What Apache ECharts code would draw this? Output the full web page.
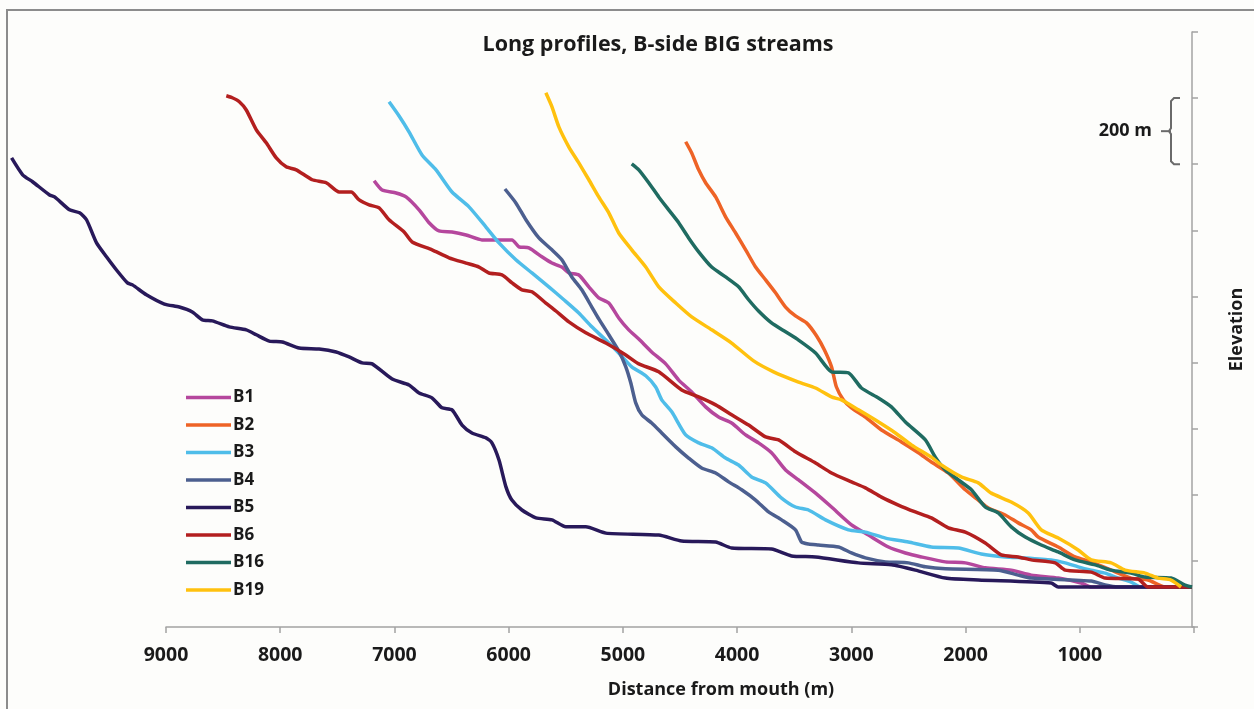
<!DOCTYPE html>
<html><head><meta charset="utf-8">
<script src="https://cdn.jsdelivr.net/npm/echarts@6/dist/echarts.min.js"></script>
<style>html,body{margin:0;padding:0;background:#ffffff}#c{width:1254px;height:709px}</style>
</head><body><div id="c"></div>
<script>
// distance from mouth (m), elevation (m)
const seriesNames = ['B1','B2','B3','B4','B5','B6','B16','B19'];
const seriesColors = ['#b5479d','#ee6326','#4fbde9','#4c5f8f','#28195a','#b31f1f','#1f6b61','#ffc10e'];

const B1 = [[7172,1350],[7102,1322],[6979,1313],[6892,1301],[6778,1262],[6690,1223],[6603,1198],[6489,1195],[6366,1186],[6226,1171],[5963,1171],[5902,1150],[5815,1147],[5701,1120],[5613,1101],[5526,1089],[5464,1071],[5377,1065],[5289,1029],[5202,996],[5114,980],[5027,935],[4939,899],[4851,871],[4738,832],[4615,796],[4501,747],[4387,711],[4265,666],[4151,635],[4037,617],[3914,581],[3801,557],[3687,527],[3564,475],[3450,445],[3301,405],[3161,363],[2986,309],[2837,278],[2662,242],[2513,224],[2373,212],[2163,197],[1988,194],[1813,179],[1585,172],[1410,157],[1173,148],[972,133],[884,121],[0,121]];

const B2 = [[4440,1468],[4387,1434],[4326,1383],[4265,1344],[4177,1301],[4090,1241],[4002,1192],[3914,1141],[3827,1089],[3739,1050],[3652,1011],[3564,968],[3477,941],[3380,920],[3293,881],[3223,838],[3161,787],[3118,726],[3056,687],[2986,663],[2864,635],[2723,596],[2548,560],[2399,527],[2286,499],[2137,466],[1988,415],[1874,384],[1786,360],[1638,339],[1524,315],[1410,294],[1349,272],[1173,242],[1025,212],[884,197],[709,172],[534,148],[385,142],[236,121],[0,121]];

const B3 = [[7041,1589],[6953,1546],[6866,1498],[6752,1428],[6629,1383],[6489,1316],[6340,1271],[6191,1210],[6077,1162],[5929,1111],[5788,1071],[5640,1029],[5508,990],[5377,950],[5263,908],[5140,868],[5027,829],[4913,787],[4790,760],[4703,726],[4650,687],[4562,651],[4440,581],[4326,557],[4212,542],[4090,511],[3976,490],[3862,454],[3739,436],[3599,390],[3477,363],[3363,354],[3214,324],[3012,294],[2864,287],[2688,269],[2487,257],[2286,242],[2049,239],[1848,221],[1638,212],[1462,209],[1235,203],[1112,194],[998,182],[884,172],[762,163],[648,148],[534,136],[447,121],[0,121]];

const B4 = [[6025,1325],[5929,1283],[5841,1232],[5727,1177],[5613,1141],[5526,1111],[5438,1059],[5351,1020],[5263,968],[5202,932],[5114,884],[5027,835],[4965,787],[4921,738],[4878,678],[4825,642],[4738,617],[4650,587],[4527,545],[4414,511],[4300,481],[4177,466],[4063,439],[3949,415],[3827,384],[3713,348],[3599,324],[3477,294],[3424,257],[3363,251],[3275,248],[3099,242],[2986,224],[2864,209],[2688,197],[2487,194],[2338,182],[2163,176],[1699,172],[1524,157],[1410,148],[884,139],[762,127],[648,121],[0,121]];

const B5 = [[10351,1419],[10254,1368],[10167,1347],[10018,1307],[9974,1301],[9843,1262],[9755,1253],[9694,1232],[9606,1162],[9519,1120],[9431,1080],[9335,1041],[9291,1035],[9169,1005],[9011,977],[8880,968],[8766,953],[8678,929],[8591,926],[8442,908],[8293,899],[8205,884],[8091,865],[7977,862],[7829,844],[7654,841],[7505,832],[7391,817],[7277,799],[7189,796],[7014,750],[6866,732],[6778,708],[6664,693],[6577,663],[6489,657],[6401,611],[6314,587],[6191,572],[6139,557],[6077,505],[6016,424],[5964,384],[5876,354],[5753,330],[5613,324],[5491,303],[5316,303],[5140,284],[4676,278],[4475,260],[4177,257],[4037,239],[3687,236],[3512,215],[3301,212],[2925,194],[2636,188],[2426,172],[2163,148],[1874,142],[1235,133],[1173,121],[0,121]];

const B6 = [[8468,1607],[8416,1601],[8354,1589],[8293,1564],[8205,1504],[8118,1465],[8030,1419],[7943,1392],[7855,1383],[7715,1353],[7592,1344],[7479,1316],[7373,1316],[7303,1292],[7216,1277],[7128,1268],[7041,1232],[6909,1195],[6839,1165],[6664,1141],[6515,1117],[6366,1101],[6252,1089],[6165,1071],[6051,1065],[5963,1041],[5876,1020],[5788,1014],[5666,980],[5578,956],[5464,923],[5316,890],[5140,859],[4965,823],[4851,796],[4676,772],[4475,717],[4326,696],[4177,672],[4037,642],[3888,611],[3739,575],[3625,566],[3477,530],[3301,496],[3161,466],[2986,439],[2864,421],[2723,393],[2575,369],[2426,348],[2286,330],[2137,300],[1988,287],[1813,254],[1673,218],[1524,212],[1410,203],[1200,194],[1112,172],[884,166],[762,148],[473,145],[385,121],[0,121]];

const B16 = [[4913,1401],[4851,1383],[4764,1344],[4676,1301],[4589,1262],[4501,1223],[4414,1177],[4326,1135],[4212,1089],[4090,1059],[3976,1029],[3888,990],[3801,956],[3687,920],[3564,893],[3450,868],[3301,829],[3161,772],[3012,769],[2899,723],[2750,693],[2636,666],[2513,620],[2338,566],[2251,514],[2163,475],[2049,445],[1935,415],[1813,363],[1699,345],[1585,303],[1462,272],[1322,248],[1173,227],[1025,203],[849,188],[709,172],[534,163],[412,151],[184,148],[61,127],[0,121]];

const B19 = [[5666,1616],[5613,1574],[5552,1513],[5464,1452],[5377,1404],[5289,1353],[5202,1301],[5114,1253],[5027,1192],[4913,1141],[4790,1089],[4676,1029],[4527,980],[4387,938],[4212,899],[4037,859],[3844,805],[3669,772],[3450,741],[3301,723],[3161,696],[3074,687],[2925,657],[2776,626],[2601,587],[2461,551],[2286,514],[2198,490],[2023,454],[1874,436],[1760,405],[1585,378],[1436,345],[1322,294],[1173,269],[998,233],[884,203],[709,194],[587,172],[412,163],[298,148],[184,142],[96,121]];

const seriesData = [B1,B2,B3,B4,B5,B6,B16,B19];

const FONT = "'Open Sans', sans-serif";
const chart = echarts.init(document.getElementById('c'), null, {renderer:'canvas'});

const option = {
  animation: false,
  backgroundColor: '#fdfdfb',
  title: [
    {text: 'Long profiles, B-side BIG streams', left: 658, top: 31, textAlign: 'center', padding: 0,
     textStyle: {fontFamily: FONT, fontWeight: 'bold', fontSize: 21.5, lineHeight: 28, color: '#1a1a1a'}},
    {text: 'Distance from mouth (m)', left: 721, top: 679, textAlign: 'center', padding: 0,
     textStyle: {fontFamily: FONT, fontWeight: 'bold', fontSize: 18, lineHeight: 22, color: '#1a1a1a'}}
  ],
  legend: {
    orient: 'vertical', left: 186, top: 389, padding: 0,
    icon: 'rect', itemWidth: 45, itemHeight: 3.5, itemGap: 10.5,
    selectedMode: false,
    data: seriesNames,
    textStyle: {fontFamily: FONT, fontWeight: 'bold', fontSize: 17, lineHeight: 16, color: '#1a1a1a', padding: [0,0,0,-3]}
  },
  grid: [
    {left: 6, right: 60, top: 32, bottom: 82},
    {left: 166, right: 60, top: 32, bottom: 82}
  ],
  xAxis: [
    {gridIndex: 0, type: 'value', min: 0, max: 10400, inverse: true, show: false},
    {gridIndex: 1, type: 'value', min: 0, max: 9000, interval: 1000, inverse: true,
     axisLine: {show: true, lineStyle: {color: '#a3a3a3', width: 1.5}},
     axisTick: {show: true, length: 6, lineStyle: {color: '#a3a3a3', width: 1.5}},
     splitLine: {show: false},
     axisLabel: {margin: 17, fontFamily: FONT, fontWeight: 'bold', fontSize: 19.5, lineHeight: 22, color: '#1a1a1a',
       formatter: v => v === 0 ? '' : String(v)}}
  ],
  yAxis: [
    {gridIndex: 0, type: 'value', position: 'right', min: 0, max: 1800, interval: 200,
     axisLine: {show: true, lineStyle: {color: '#a3a3a3', width: 1.5}},
     axisTick: {show: true, inside: false, length: 6, lineStyle: {color: '#a3a3a3', width: 1.5}},
     axisLabel: {show: false}, splitLine: {show: false},
     name: 'Elevation', nameLocation: 'middle', nameRotate: 90, nameGap: 36,
     nameTextStyle: {fontFamily: FONT, fontWeight: 'bold', fontSize: 18, color: '#1a1a1a'}},
    {gridIndex: 1, type: 'value', min: 0, max: 1800, show: false}
  ],
  series: seriesNames.map((n, i) => ({
    name: n, type: 'line', xAxisIndex: 0, yAxisIndex: 0,
    data: seriesData[i], showSymbol: false, symbol: 'none', smooth: 0.2,
    lineStyle: {width: 3.5, color: seriesColors[i]}, itemStyle: {color: seriesColors[i]},
    z: 2 + i
  })).concat([{type: 'line', xAxisIndex: 1, yAxisIndex: 1, data: [], silent: true}])
};
chart.setOption(option);

// annotation brace for the 200 m scale
const bracketLow = 1400, bracketHigh = 1600;
const yTop = chart.convertToPixel({yAxisIndex: 0}, bracketHigh);
const yBot = chart.convertToPixel({yAxisIndex: 0}, bracketLow);
const yMid = (yTop + yBot) / 2;
const axisX = chart.convertToPixel({xAxisIndex: 0}, 0);
const bx = axisX - 21;
const braceStyle = {stroke: '#6a6a6a', lineWidth: 2, fill: null};
chart.setOption({
  graphic: [
    {type: 'rect', shape: {x: 7, y: 10, width: 1300, height: 800}, style: {fill: null, stroke: '#8c8c8c', lineWidth: 2}, silent: true, z: 100},
    {type: 'polyline', shape: {points: [[bx + 9, yTop], [bx + 3, yTop], [bx, yTop + 3], [bx, yMid - 3], [bx - 2, yMid]]}, style: braceStyle, silent: true},
    {type: 'polyline', shape: {points: [[bx - 2, yMid], [bx, yMid + 3], [bx, yBot - 3], [bx + 3, yBot], [bx + 9, yBot]]}, style: braceStyle, silent: true},
    {type: 'line', shape: {x1: bx - 10, y1: yMid, x2: bx, y2: yMid}, style: braceStyle, silent: true},
    {type: 'text', x: bx - 19, y: yMid, style: {text: '200 m', align: 'right', verticalAlign: 'middle',
      font: "bold 18px 'Open Sans', sans-serif", fill: '#1a1a1a'}, silent: true}
  ]
});
</script>
</body></html>
